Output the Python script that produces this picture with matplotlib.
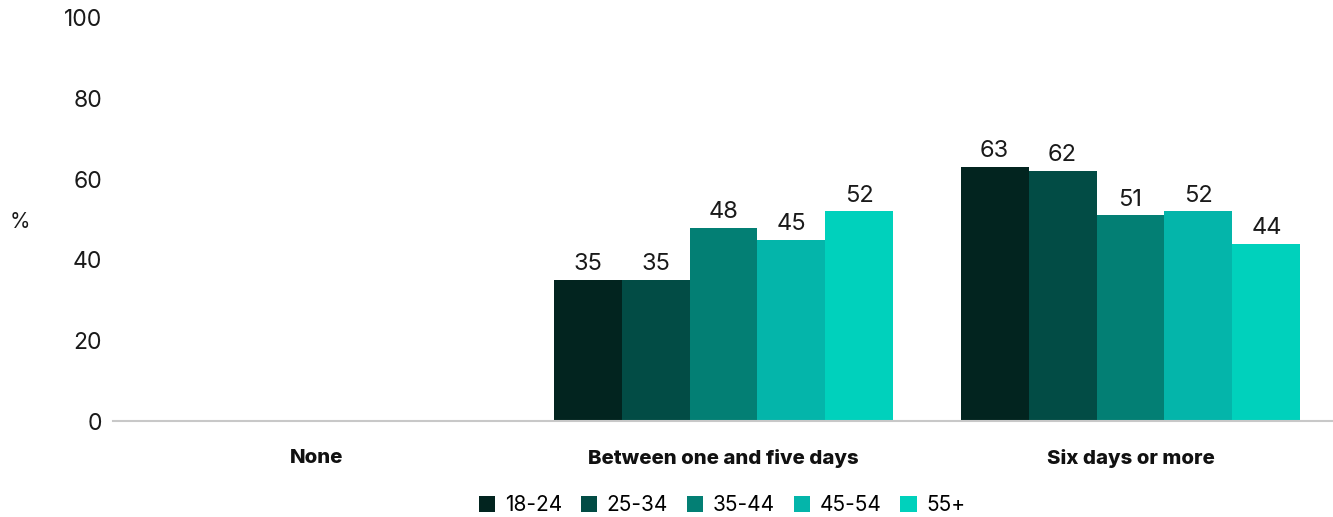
import matplotlib
matplotlib.use("Agg")
import matplotlib.pyplot as plt
import numpy as np

categories = ["None", "Between one and five days", "Six days or more"]
age_groups = ["18-24", "25-34", "35-44", "45-54", "55+"]
v_18_24 = [np.nan, 35, 63]
v_25_34 = [np.nan, 35, 62]
v_35_44 = [np.nan, 48, 51]
v_45_54 = [np.nan, 45, 52]
v_55p = [np.nan, 52, 44]
series = [v_18_24, v_25_34, v_35_44, v_45_54, v_55p]
colors = ["#02241f", "#024c45", "#037f74", "#04b5aa", "#00d1bc"]
yticks = [0, 20, 40, 60, 80, 100]

plt.rcParams['font.family'] = ['Inter', 'DejaVu Sans']

W, H = 1333, 517
fig = plt.figure(figsize=(W / 100, H / 100), dpi=100)
ax = fig.add_axes([113 / W, 1 - 421 / H, (1334 - 113) / W, (421 - 18) / H])

x = np.arange(len(categories))
n = len(series)
bw = 0.835 / n
for i, (vals, c, lab) in enumerate(zip(series, colors, age_groups)):
    pos = x + (i - (n - 1) / 2) * bw
    ax.bar(pos, vals, width=bw, color=c, label=lab, linewidth=0)
    for xp, v in zip(pos, vals):
        if not np.isnan(v):
            ax.text(xp, v + 1.2, f"{int(v)}", ha="center", va="bottom",
                    fontsize=17, color="#1a1a1a")

ax.set_xlim(-0.5, 2.5)
ax.set_ylim(0, 100)
ax.set_yticks(yticks)
ax.set_yticklabels([str(t) for t in yticks], fontsize=16.5, color="#1a1a1a")
ax.tick_params(axis="y", length=0, pad=8)
ax.set_xticks(x)
ax.set_xticklabels(categories, fontsize=14.7, fontweight="heavy", color="#111111")
ax.tick_params(axis="x", length=0, pad=20)
for s in ["top", "right", "left"]:
    ax.spines[s].set_visible(False)
ax.spines["bottom"].set_color("#c8c8c8")
ax.spines["bottom"].set_linewidth(1.5)

fig.text(20 / W, 1 - 222 / H, "%", fontsize=15, ha="center", va="center", color="#1a1a1a")

leg = fig.legend(loc="center", bbox_to_anchor=(722 / W, 1 - 505 / H), ncol=5,
                 frameon=False, fontsize=15, handlelength=0.8, handleheight=0.8,
                 handletextpad=0.45, columnspacing=0.9)

fig.savefig("out.png", dpi=100)
